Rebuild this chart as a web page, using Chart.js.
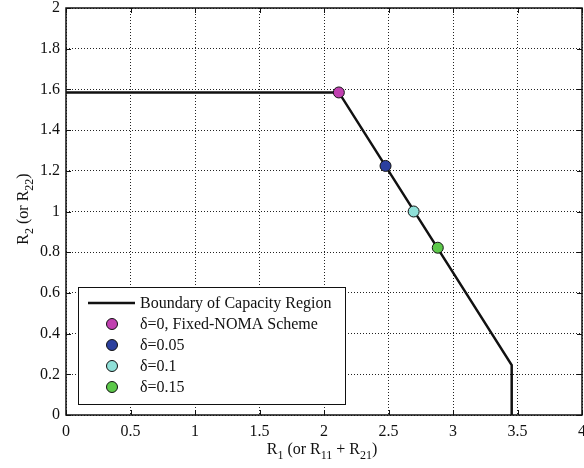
<!DOCTYPE html>
<html><head><meta charset="utf-8">
<script src="https://cdn.jsdelivr.net/npm/chart.js@4"></script>
<style>html,body{margin:0;padding:0;background:#fff;overflow:hidden}#wrap{width:584px;height:468px}</style>
</head><body><div id="wrap"><canvas id="c" width="584" height="468"></canvas></div>
<script>
const boundaryX = [0, 2.115, 3.455, 3.455];
const boundaryY = [1.585, 1.585, 0.245, 0];
const pointLabels = ['δ=0, Fixed-NOMA Scheme', 'δ=0.05', 'δ=0.1', 'δ=0.15'];
const pointX = [2.115, 2.477, 2.695, 2.882];
const pointY = [1.585, 1.224, 1.0, 0.822];
const pointColors = ['#c040b0', '#2b3f9e', '#8fe0d8', '#5cc84a'];
const xTicks = [0, 0.5, 1, 1.5, 2, 2.5, 3, 3.5, 4];
const yTicks = [0, 0.2, 0.4, 0.6, 0.8, 1, 1.2, 1.4, 1.6, 1.8, 2];
const lineLabel = 'Boundary of Capacity Region';

const FONT = '"Liberation Serif", "Times New Roman", serif';

const datasets = [{
  label: lineLabel,
  data: boundaryX.map((x, i) => ({x, y: boundaryY[i]})),
  showLine: true, borderColor: '#111', borderWidth: 2.5, pointRadius: 0, fill: false, order: 2
}];
pointX.forEach((x, i) => datasets.push({
  label: pointLabels[i],
  data: [{x, y: pointY[i]}],
  showLine: false, pointRadius: 5.5, pointBackgroundColor: pointColors[i],
  pointBorderColor: '#111', pointBorderWidth: 1, order: 1
}));

function drawRich(ctx, segs, x, y, size) {
  let w = 0;
  const subSize = size * 0.75;
  segs.forEach(s => { ctx.font = (s[1] ? subSize : size) + 'px ' + FONT; w += ctx.measureText(s[0]).width; });
  let cx = x - w / 2;
  ctx.textAlign = 'left'; ctx.textBaseline = 'alphabetic';
  segs.forEach(s => {
    ctx.font = (s[1] ? subSize : size) + 'px ' + FONT;
    ctx.fillText(s[0], cx, y + (s[1] ? size * 0.3 : 0));
    cx += ctx.measureText(s[0]).width;
  });
}

const decor = {
  id: 'decor',
  afterDraw(chart) {
    const ctx = chart.ctx, a = chart.chartArea;
    const xs = chart.scales.x, ys = chart.scales.y;
    ctx.save();
    ctx.strokeStyle = '#111'; ctx.lineWidth = 1; ctx.setLineDash([]);
    ctx.beginPath();
    xTicks.forEach(v => { const px = Math.round(xs.getPixelForValue(v)) + 0.5;
      ctx.moveTo(px, a.bottom); ctx.lineTo(px, a.bottom - 5);
      ctx.moveTo(px, a.top); ctx.lineTo(px, a.top + 5); });
    yTicks.forEach(v => { const py = Math.round(ys.getPixelForValue(v)) + 0.5;
      ctx.moveTo(a.left, py); ctx.lineTo(a.left + 5, py);
      ctx.moveTo(a.right, py); ctx.lineTo(a.right - 5, py); });
    ctx.stroke();
    ctx.lineWidth = 1.5;
    ctx.strokeRect(a.left, a.top, a.right - a.left, a.bottom - a.top);
    // legend
    const lx = 78, ly = 287, lw = 267, lh = 117;
    ctx.fillStyle = '#fff'; ctx.fillRect(lx, ly, lw, lh);
    ctx.lineWidth = 1; ctx.strokeStyle = '#111';
    ctx.strokeRect(lx + 0.5, ly + 0.5, lw, lh);
    const rows = [303, 324, 345, 366, 387];
    ctx.font = '16px ' + FONT; ctx.fillStyle = '#111';
    ctx.textAlign = 'left'; ctx.textBaseline = 'middle';
    ctx.lineWidth = 2.5;
    ctx.beginPath(); ctx.moveTo(88, rows[0]); ctx.lineTo(135, rows[0]); ctx.stroke();
    ctx.fillText(lineLabel, 140, rows[0] + 1);
    pointLabels.forEach((t, i) => {
      const y = rows[i + 1];
      ctx.beginPath(); ctx.arc(112, y, 5.5, 0, Math.PI * 2);
      ctx.fillStyle = pointColors[i]; ctx.fill();
      ctx.lineWidth = 1; ctx.strokeStyle = '#111'; ctx.stroke();
      ctx.fillStyle = '#111';
      ctx.fillText(t, 140, y + 1);
    });
    // axis titles
    ctx.fillStyle = '#111';
    drawRich(ctx, [['R', 0], ['1', 1], [' (or R', 0], ['11', 1], [' + R', 0], ['21', 1], [')', 0]], 322, 454, 16);
    ctx.translate(28, 209); ctx.rotate(-Math.PI / 2);
    drawRich(ctx, [['R', 0], ['2', 1], [' (or R', 0], ['22', 1], [')', 0]], 0, 0, 16);
    ctx.restore();
  }
};

new Chart(document.getElementById('c'), {
  type: 'scatter',
  data: { datasets },
  options: {
    responsive: false, animation: false, devicePixelRatio: 1,
    layout: { autoPadding: false, padding: { top: 8, right: 2, left: 0, bottom: 0 } },
    plugins: { legend: { display: false }, tooltip: { enabled: false } },
    scales: {
      x: {
        type: 'linear', min: 0, max: 4,
        afterBuildTicks: s => { s.ticks = xTicks.map(v => ({value: v})); },
        afterFit: s => { s.height = 53; s.paddingLeft = 0; s.paddingRight = 0; },
        ticks: { color: '#111', font: { family: FONT, size: 16 }, padding: 7, maxRotation: 0,
          callback: v => String(v) },
        grid: { color: '#222', lineWidth: 1, drawTicks: false },
        border: { display: false, dash: [1, 2] }
      },
      y: {
        type: 'linear', min: 0, max: 2,
        afterBuildTicks: s => { s.ticks = yTicks.map(v => ({value: v})); },
        afterFit: s => { s.width = 66; s.paddingTop = 0; s.paddingBottom = 0; },
        ticks: { color: '#111', font: { family: FONT, size: 16 }, padding: 6,
          callback: v => String(Math.round(v * 10) / 10) },
        grid: { color: '#222', lineWidth: 1, drawTicks: false },
        border: { display: false, dash: [1, 2] }
      }
    }
  },
  plugins: [decor]
});
</script></body></html>
